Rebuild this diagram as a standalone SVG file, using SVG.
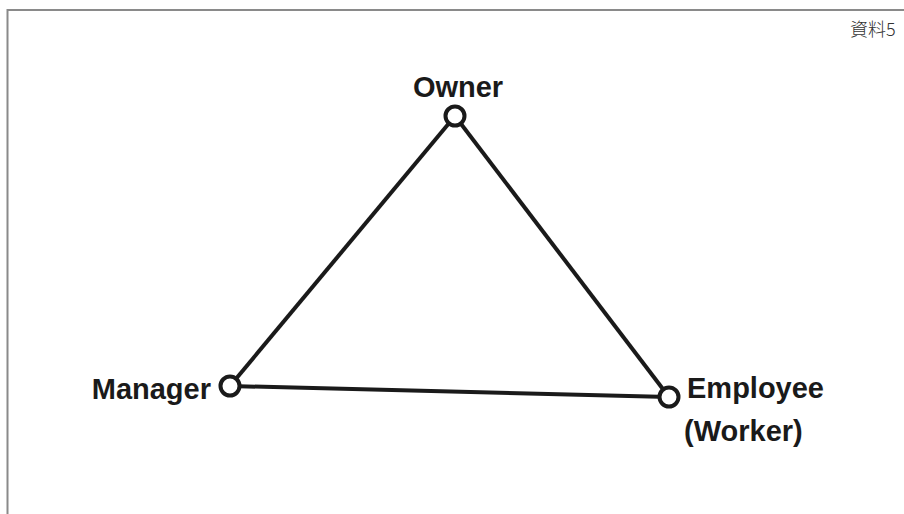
<svg xmlns="http://www.w3.org/2000/svg" width="904" height="514" viewBox="0 0 904 514">
<style>
.lbl{font-family:"Liberation Sans",Arial,sans-serif;font-weight:bold;font-size:29px;fill:#1a1a1a}
.node{fill:#fff;stroke:#1a1a1a;stroke-width:4}
.edge{stroke:#1a1a1a;stroke-width:4;fill:none}
.frame{stroke:#8a8a8a;stroke-width:2;fill:none}
</style>
<rect width="904" height="514" fill="#fff"/>
<path class="frame" d="M7.5,514 V10 H904"/>
<text x="850" y="36" font-family="'Noto Sans CJK JP',sans-serif" font-weight="300" font-size="18" fill="#333">資料5</text>
<g id="connectors">
<line class="edge" x1="455" y1="116" x2="230" y2="386"/>
<line class="edge" x1="455" y1="116" x2="669" y2="397"/>
<line class="edge" x1="230" y1="386" x2="669" y2="397"/>
</g>
<g id="owner">
<circle class="node" cx="455" cy="116" r="9.5"/>
<text class="lbl" x="458" y="97" text-anchor="middle">Owner</text>
</g>
<g id="manager">
<circle class="node" cx="230" cy="386" r="9.5"/>
<text class="lbl" x="211" y="399" text-anchor="end">Manager</text>
</g>
<g id="employee">
<circle class="node" cx="669" cy="397" r="9.5"/>
<text class="lbl" x="687" y="398">Employee</text>
<text class="lbl" x="684" y="441">(Worker)</text>
</g>
</svg>
